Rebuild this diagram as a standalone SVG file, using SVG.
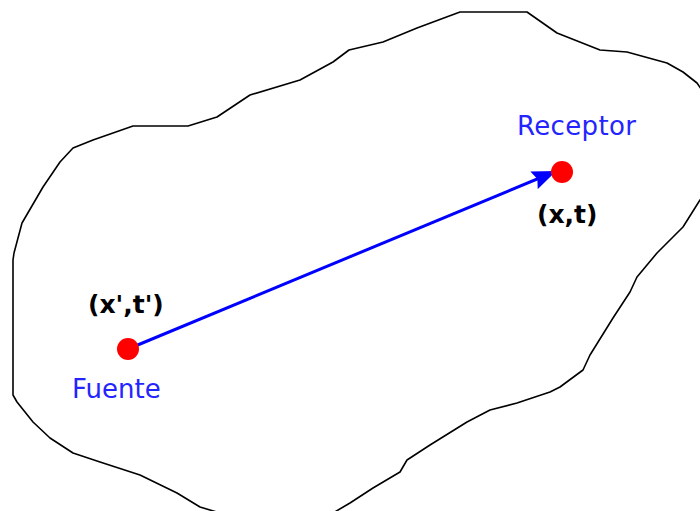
<svg xmlns="http://www.w3.org/2000/svg" width="700" height="511" viewBox="0 0 700 511">
<style>
.outline{fill:none;stroke:#000;stroke-width:1.6;stroke-linejoin:round}
.dot{fill:#ff0000}
.lbl{font-family:"DejaVu Sans",sans-serif;font-size:26px;fill:#2424ff}
.coord{font-family:"DejaVu Sans",sans-serif;font-size:25px;font-weight:bold;fill:#000}
.conn{stroke:#0000ff;stroke-width:3;fill:none}
</style>
<defs>
<marker id="ah" viewBox="0 0 10 8" refX="9" refY="4" markerWidth="8" markerHeight="6.4" markerUnits="strokeWidth" orient="auto">
<path d="M0,0 L10,4 L0,8 L1.5,4 z" fill="#0000ff"/>
</marker>
</defs>
<g id="region">
<path class="outline" d="M14,253 L22,223 L43,187 L60,162 L73,148 L93,140 L133,126 L188,126 L217,117 L250,95 L300,80 L333,62 L349,50 L383,42 L417,28 L460,12 L527,12 L557,33 L600,50 L627,52 L667,63 L683,72 L697,83 L712,105 L712,185 L700,200 L683,227 L657,253 L637,277 L630,292 L613,318 L590,355 L583,370 L560,387 L550,392 L517,403 L490,410 L467,422 L430,445 L407,460 L400,472 L373,488 L350,503 L333,513 L230,516 L200,507 L177,493 L140,475 L100,462 L73,453 L50,438 L33,422 L17,402 L13,395 L13,260 Z"/>
</g>
<g id="connectors">
<line class="conn" x1="128" y1="349" x2="554" y2="172" marker-end="url(#ah)"/>
</g>
<g id="fuente">
<circle class="dot" cx="128" cy="349" r="11"/>
<text class="coord" x="88" y="313">(x',t')</text>
<text class="lbl" x="72" y="398">Fuente</text>
</g>
<g id="receptor">
<circle class="dot" cx="562" cy="172" r="11"/>
<text class="lbl" x="517" y="135" textLength="119">Receptor</text>
<text class="coord" x="537" y="223">(x,t)</text>
</g>
</svg>
